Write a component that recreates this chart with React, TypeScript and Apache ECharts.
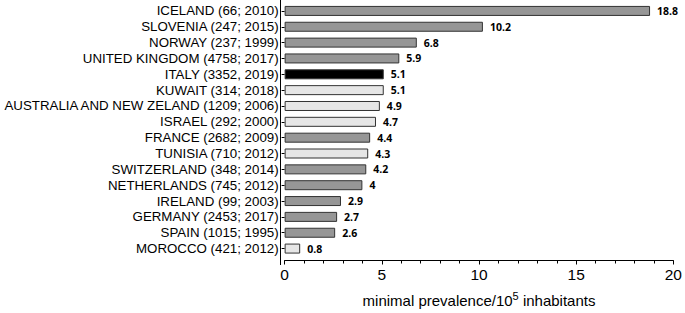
import React, { useEffect, useRef } from "react";
import * as echarts from "echarts";

const categories = [
  "ICELAND (66; 2010)",
  "SLOVENIA (247; 2015)",
  "NORWAY (237; 1999)",
  "UNITED KINGDOM (4758; 2017)",
  "ITALY (3352, 2019)",
  "KUWAIT (314; 2018)",
  "AUSTRALIA AND NEW ZELAND (1209; 2006)",
  "ISRAEL (292; 2000)",
  "FRANCE (2682; 2009)",
  "TUNISIA (710; 2012)",
  "SWITZERLAND (348; 2014)",
  "NETHERLANDS (745; 2012)",
  "IRELAND (99; 2003)",
  "GERMANY (2453; 2017)",
  "SPAIN (1015; 1995)",
  "MOROCCO (421; 2012)",
];
const values = [18.8, 10.2, 6.8, 5.9, 5.1, 5.1, 4.9, 4.7, 4.4, 4.3, 4.2, 4, 2.9, 2.7, 2.6, 0.8];
// group: g = grey, l = light, b = black (Italy)
const groups = ["g", "g", "g", "g", "b", "l", "l", "l", "g", "l", "g", "g", "g", "g", "g", "l"];
const xTicks = [0, 5, 10, 15, 20];

const colorMap: Record<string, string> = { g: "#969696", l: "#e6e6e6", b: "#000000" };

export default function App() {
  const ref = useRef<HTMLDivElement>(null);
  useEffect(() => {
    document.body.style.margin = "0";
    const chart = echarts.init(ref.current!, null, { renderer: "svg" });
    const font = "'Liberation Sans', Arial, Helvetica, sans-serif";
    chart.setOption({
      animation: false,
      grid: { left: 280, right: 8, top: 3, height: 258, containLabel: false },
      xAxis: {
        type: "value",
        min: xTicks[0],
        max: xTicks[xTicks.length - 1],
        interval: 5,
        offset: 4,
        axisLine: { show: true, lineStyle: { color: "#000", width: 1 } },
        axisTick: { show: true, length: 4, lineStyle: { color: "#000" } },
        minorTick: { show: true, splitNumber: 5, length: 3, lineStyle: { color: "#000" } },
        splitLine: { show: false },
        axisLabel: { color: "#000", fontSize: 15.5, fontFamily: font, margin: 6 },
        name: "{a|minimal prevalence/10}{s|5}{a| inhabitants}",
        nameLocation: "middle",
        nameGap: 30,
        nameTextStyle: {
          color: "#000",
          fontSize: 15,
          fontFamily: font,
          rich: {
            a: { fontSize: 15, fontFamily: font, color: "#000", lineHeight: 20 },
            s: { fontSize: 11, fontFamily: font, color: "#000", lineHeight: 12, verticalAlign: "top" },
          },
        },
      },
      yAxis: {
        type: "category",
        data: categories,
        inverse: true,
        axisLine: { show: false },
        axisTick: { show: true, alignWithLabel: true, interval: 0, length: 3, lineStyle: { color: "#000" } },
        axisLabel: { color: "#000", fontSize: 13.3, fontFamily: font, margin: 6, interval: 0 },
      },
      graphic: [
        {
          type: "line",
          shape: { x1: 280.5, y1: 0, x2: 280.5, y2: 265 },
          style: { stroke: "#000", lineWidth: 1 },
          z: 10,
        },
      ],
      series: [
        {
          type: "bar",
          data: values.map((v, i) => ({
            value: v,
            itemStyle: { color: colorMap[groups[i]], borderColor: "#333", borderWidth: 1 },
          })),
          barWidth: 10,
          label: {
            show: true,
            position: "right",
            distance: 7,
            color: "#000",
            fontSize: 10.5,
            fontWeight: "bold",
            fontFamily: "'Open Sans', sans-serif",
          },
        },
      ],
    });
    return () => chart.dispose();
  }, []);
  return <div ref={ref} style={{ width: 685, height: 313 }} />;
}
